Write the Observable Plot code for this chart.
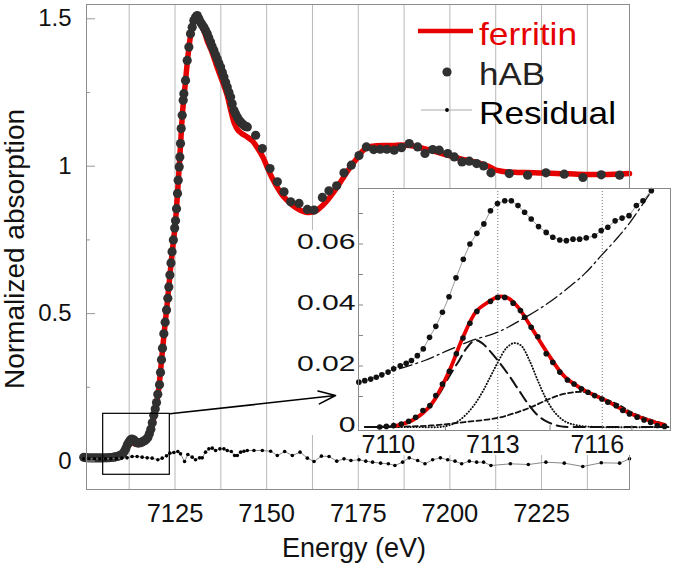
<!DOCTYPE html>
<html><head><meta charset="utf-8">
<script src="https://cdn.jsdelivr.net/npm/d3@7"></script>
<script src="https://cdn.jsdelivr.net/npm/@observablehq/plot@0.6"></script>
<style>
body{margin:0;background:#fff;}
#wrap{position:relative;width:675px;height:574px;overflow:hidden;font-family:"Liberation Sans",Arial,sans-serif;}
#wrap > *{position:absolute;}
</style></head><body><div id="wrap"></div>
<script>
// ---------- main chart data: [energy (eV), normalized absorption] ----------
const hAB = [
[7100.1,0.0126],[7100.7,0.0112],[7101.4,0.0106],[7102.1,0.0104],[7102.8,0.0104],[7103.5,0.0104],[7104.2,0.0104],[7104.9,0.0105],[7105.6,0.0106],[7106.3,0.0108],[7107.0,0.0111],[7107.7,0.0118],[7108.3,0.0128],[7108.8,0.0140],
[7109.2,0.0152],[7109.7,0.0171],[7110.2,0.0201],[7110.7,0.0234],[7111.2,0.0330],[7111.6,0.0427],[7112.0,0.0550],[7112.4,0.0635],[7112.8,0.0709],[7113.2,0.0742],[7113.6,0.0726],[7114.0,0.0682],[7114.4,0.0638],[7114.8,0.0613],[7115.2,0.0616],[7115.6,0.0620],[7116.0,0.0644],[7116.4,0.0676],[7116.8,0.0693],[7117.2,0.0742],[7117.6,0.0800],
[7118.0,0.092],[7118.4,0.108],[7118.8,0.130],[7119.2,0.155],[7119.6,0.176],[7119.95,0.198],[7120.3,0.226],[7120.77,0.2586],[7121.04,0.3004],[7121.31,0.3433],[7121.58,0.3828],[7121.95,0.4313],[7122.31,0.4708],[7122.68,0.5125],[7123.04,0.552],[7123.31,0.5905],[7123.6,0.631],[7123.9,0.672],[7124.2,0.710],[7124.55,0.750],[7124.9,0.790],[7125.14,0.815],[7125.41,0.856],[7125.68,0.9075],[7125.87,0.9526],[7126.14,0.9977],[7126.32,1.0316],[7126.5,1.0767],[7126.69,1.1275],[7126.96,1.1727],[7127.23,1.2234],[7127.41,1.246],[7127.87,1.2911],[7128.32,1.3588],[7128.78,1.404],[7129.23,1.4491],[7129.69,1.4717],[7130.14,1.4943],[7130.6,1.5055],[7131.06,1.5112],[7131.51,1.4999],[7131.97,1.4886],[7132.4,1.480],[7132.88,1.4717],[7133.3,1.461],[7133.79,1.4491],[7134.2,1.436],[7134.7,1.4209],[7135.1,1.407],[7135.61,1.3927],[7136.05,1.378],[7136.52,1.3645],[7136.95,1.350],[7137.43,1.3363],[7137.9,1.319],[7138.34,1.3024],[7138.8,1.285],[7139.25,1.2686],[7139.7,1.251],[7140.16,1.2347],[7140.6,1.212],[7141.07,1.1896],[7141.5,1.178],[7141.98,1.167],[7142.45,1.157],[7142.9,1.150],[7143.35,1.144],[7143.81,1.1388],[7144.25,1.135],[7144.72,1.1332],
[7147.0,1.105],[7148.82,1.0598],[7150.91,0.9921],[7152.92,0.9470],[7154.74,0.9131],[7156.56,0.8793],[7158.83,0.8736],[7161.11,0.8533],[7162.93,0.8510],[7165.2,0.894],[7167.0,0.9165],[7169.1,0.9334],[7171.1,0.9775],[7173.1,1.0034],[7175.2,1.036],[7177.2,1.0655],[7179.2,1.0565],[7181.0,1.0575],[7182.8,1.0575],[7184.8,1.0542],[7186.8,1.063],[7188.9,1.077],[7191.2,1.0655],[7193.2,1.043],[7195.3,1.0565],[7197.1,1.0542],[7199.4,1.043],[7201.2,1.0316],[7203.3,1.0146],[7205.3,1.017],[7207.3,1.009],[7209.2,1.001],[7211.2,0.9775],[7216.2,0.975],[7221.2,0.9695],[7226.2,0.9775],[7231.2,0.973],[7236.3,0.9617],[7241.3,0.9706],[7246.3,0.9695]
];
const ferritin = [
[7100.1,0.0095],[7103,0.0098],[7106,0.0102],[7108,0.0115],[7109,0.013],[7110,0.0165],[7110.8,0.022],[7111.5,0.034],[7112.2,0.050],[7112.9,0.060],[7113.5,0.061],[7114.2,0.057],[7115,0.056],[7115.8,0.058],[7116.6,0.064],[7117.4,0.074],[7118.2,0.092],[7119,0.135],[7119.8,0.185],[7120.5,0.24],[7121.2,0.325],[7122,0.43],[7122.8,0.525],[7123.5,0.615],[7124.2,0.705],[7125,0.795],[7125.7,0.91],[7126.4,1.05],[7127.1,1.19],[7127.8,1.28],[7128.5,1.37],[7129.2,1.44],[7129.9,1.485],[7130.6,1.505],[7131.3,1.50],[7132,1.482],[7133,1.455],[7133.8,1.425],[7135,1.39],[7136.5,1.335],[7138,1.285],[7139.25,1.24],[7140.2,1.19],[7141.2,1.145],[7142.2,1.122],[7143.2,1.111],[7144.7,1.099],[7146.1,1.086],[7147.5,1.062],[7149,1.03],[7150.2,0.995],[7151.5,0.96],[7152.9,0.928],[7154.2,0.903],[7155.6,0.884],[7157,0.868],[7158.4,0.856],[7159.8,0.847],[7161.1,0.843],[7162.5,0.844],[7163.8,0.851],[7165.2,0.866],[7166.6,0.885],[7168,0.907],[7169.3,0.930],[7170.7,0.957],[7172,0.982],[7173.5,1.008],[7175,1.032],[7176.2,1.052],[7177.5,1.064],[7179,1.068],[7182,1.07],[7184.5,1.07],[7186.7,1.072],[7189,1.07],[7191,1.066],[7193.5,1.058],[7195.8,1.05],[7198,1.042],[7200.5,1.033],[7203,1.025],[7205.5,1.018],[7208,1.01],[7210.5,1.0],[7212.3,0.988],[7214.1,0.983],[7216,0.980],[7218.5,0.979],[7223.2,0.978],[7227.5,0.976],[7232.3,0.974],[7237,0.972],[7241.4,0.972],[7245,0.973],[7249,0.975]
];
const residual = [
[7100.1,0.0073],[7101.5,0.0073],[7103,0.0073],[7104.5,0.0073],[7106,0.0073],[7107.5,0.0076],[7109,0.0085],[7110.5,0.0098],[7111.93,0.0107],[7113.3,0.0153],[7114.66,0.0153],[7116.03,0.013],[7117.4,0.0107],[7118.76,0.0096],[7120.31,0.004],[7121.49,0.0096],[7122.68,0.0175],[7123.59,0.0266],[7124.68,0.0288],[7125.77,0.0322],[7126.5,0.0243],[7127.6,-0.0017],[7128.5,0.022],[7129.69,0.013],[7130.6,0.004],[7131.7,0.0107],[7132.42,0.0107],[7133.33,0.03],[7134.24,0.0412],[7135.16,0.0435],[7136.07,0.0356],[7137.25,0.0412],[7138.34,0.0412],[7139.25,0.0356],[7140.35,0.0322],[7141.26,0.0186],[7141.99,0.0186],[7142.9,0.03],[7143.81,0.0333],[7144.72,0.0356],[7146.54,0.0356],[7148.82,0.0356],[7151.09,0.0333],[7152.91,0.0186],[7154.92,0.0322],[7157.01,0.0186],[7159.11,0.03],[7161.11,0.0096],[7162.93,-0.0017],[7164.94,0.0164],[7167.03,0.0153],[7169.13,-0.0006],
[7171.1,0.0073],[7173.0,0.0017],[7175.2,0.004],[7177.05,-0.0006],[7178.9,-0.004],[7181.1,-0.0073],[7183.2,-0.0096],[7185.0,-0.0153],[7187.1,-0.004],[7188.9,0.0107],[7191.2,0.0017],[7193.2,-0.0096],[7195.3,0.004],[7197.4,0.0107],[7199.4,0.004],[7201.4,-0.0006],[7203.2,-0.0096],[7205.3,-0.0006],[7207.3,-0.004],[7209.2,-0.004],[7211.2,-0.0153],[7216.5,-0.0096],[7221.4,-0.0119],[7226.2,-0.004],[7231.2,-0.0073],[7236.25,-0.0186],[7241.3,-0.0062],[7246.3,-0.0073],[7249.0,0.0073]
];
const mainXDomain = [7100.85, 7249.0];
const mainYDomain = [-0.0967, 1.5485];
const mainXTicks = [7125, 7150, 7175, 7200, 7225];
const mainGrid = [7112.5, 7125, 7137.5, 7150, 7162.5, 7175, 7187.5, 7200, 7212.5, 7225, 7237.5];
const mainYTicks = [0, 0.5, 1, 1.5];
const mainYMinor = [0.25, 0.75, 1.25];
const zoomBox = [{x1: 7105.4, x2: 7123.58, y1: -0.0468, y2: 0.160}];
const zoomArrow = [{x1: 7123.58, y1: 0.160, x2: 7168.8, y2: 0.222}];
const xLabel = "Energy (eV)";
const yLabel = "Normalized absorption";
const legendLabels = ["ferritin", "hAB", "Residual"];

// ---------- inset data: pre-edge region ----------
const preEdgeRaw = [
[7109.01,0.0147],[7109.18,0.0152],[7109.35,0.0157],[7109.51,0.0163],[7109.67,0.0171],[7109.85,0.0180],[7110.01,0.0191],[7110.20,0.0201],[7110.37,0.0209],[7110.52,0.0218],[7110.69,0.0234],[7110.86,0.0256],[7111.04,0.0294],[7111.22,0.0330],[7111.41,0.0376],[7111.60,0.0427],[7111.80,0.0489],[7112.01,0.0550],[7112.20,0.0600],[7112.40,0.0635],[7112.60,0.0666],[7112.79,0.0709],[7112.99,0.0733],[7113.20,0.0742],[7113.39,0.0742],[7113.58,0.0726],[7113.77,0.0704],[7113.96,0.0682],[7114.17,0.0657],[7114.39,0.0638],[7114.58,0.0622],[7114.78,0.0613],[7114.97,0.0611],[7115.16,0.0616],[7115.35,0.0616],[7115.54,0.0620],[7115.78,0.0627],[7115.97,0.0644],[7116.16,0.0655],[7116.37,0.0676],[7116.57,0.0685],[7116.77,0.0693],[7116.98,0.0726],[7117.17,0.0742],[7117.41,0.0775]
];
const preEdgeSub = [
[7109.61,0.0],[7109.80,0.0002],[7110.01,0.0005],[7110.23,0.0010],[7110.44,0.0019],[7110.64,0.0032],[7110.85,0.0054],[7111.05,0.0070],[7111.22,0.0103],[7111.41,0.0141],[7111.61,0.0183],[7111.81,0.0240],[7112.00,0.0292],[7112.20,0.0340],[7112.40,0.0379],[7112.79,0.0412],[7113.00,0.0425],[7113.20,0.0425],[7113.44,0.0406],[7113.65,0.0382],[7113.77,0.0360],[7113.96,0.0327],[7114.15,0.0296],[7114.39,0.0240],[7114.58,0.0212],[7114.78,0.0180],[7115.00,0.0154],[7115.19,0.0141],[7115.40,0.0125],[7115.59,0.0114],[7115.78,0.0103],[7115.99,0.0092],[7116.16,0.0081],[7116.40,0.0070],[7116.59,0.0054],[7116.78,0.0043],[7117.00,0.0032],[7117.20,0.0023],[7117.39,0.0015],[7117.58,0.0005],[7117.79,0.0002]
];
const preEdgeFit = [
[7110.04,0.0003],[7110.56,0.0023],[7111.09,0.0074],[7111.57,0.0174],[7112.0,0.0294],[7112.38,0.0379],[7112.72,0.0409],[7113.0,0.0427],[7113.29,0.0423],[7113.58,0.0393],[7113.96,0.0327],[7114.44,0.0240],[7114.92,0.0165],[7115.49,0.0120],[7116.07,0.0089],[7116.83,0.0043],[7117.41,0.0019],[7117.79,0.0007]
];
const edgeBackground = [
[7110.18,0.0191],[7110.9,0.0218],[7111.57,0.0251],[7112.24,0.0283],[7113.0,0.0311],[7113.77,0.0358],[7114.34,0.0398],[7114.92,0.0447],[7115.49,0.0502],[7115.97,0.0562],[7116.45,0.0622],[7116.83,0.0676],[7117.45,0.0780]
];
const peak1 = [
[7109.2,0.0],[7110.0,0.0003],[7110.5,0.0018],[7111.0,0.0065],[7111.3,0.0105],[7111.6,0.0165],[7111.9,0.0220],[7112.1,0.0258],[7112.35,0.0285],[7112.55,0.0275],[7112.72,0.0256],[7113.0,0.0218],[7113.29,0.0174],[7113.58,0.0125],[7113.87,0.0076],[7114.15,0.0038],[7114.44,0.0016],[7114.82,0.0002],[7115.5,0.0],[7116.5,0.0],[7117.9,0.0]
];
const peak2 = [
[7109.2,0.0],[7110.5,0.0],[7111.47,0.0002],[7111.86,0.0019],[7112.24,0.0060],[7112.53,0.0109],[7112.77,0.0161],[7113.0,0.0212],[7113.24,0.0258],[7113.46,0.0275],[7113.67,0.0267],[7113.91,0.0218],[7114.15,0.0152],[7114.39,0.0092],[7114.63,0.0049],[7114.92,0.0019],[7115.3,0.0005],[7115.88,0.0],[7117.9,0.0]
];
const peak3 = [
[7109.18,0.0],[7110.2,0.0001],[7111.09,0.0005],[7112.05,0.0016],[7113.0,0.0030],[7113.58,0.0049],[7113.96,0.0065],[7114.34,0.0085],[7114.73,0.0103],[7115.11,0.0113],[7115.4,0.0115],[7115.68,0.0111],[7116.07,0.0092],[7116.45,0.0074],[7116.83,0.0049],[7117.31,0.0027],[7117.79,0.0010]
];
const insetXDomain = [7109.0, 7117.96];
const insetYDomain = [-0.00115, 0.0782];
const insetXTicks = [7110, 7113, 7116];
const insetYTicks = [0, 0.02, 0.04, 0.06];
const insetYMinor = [0.01, 0.02, 0.03, 0.04, 0.05, 0.06, 0.07];
const insetXMinor = [7111.5, 7114.5, 7116.85];

// ---------- drawing ----------
const FONT = "'Liberation Sans', Arial, sans-serif";
const RED = "#e60000";
const pts = a => a.map(([e, v]) => ({e, v}));
const wrap = document.getElementById("wrap");

const M = {width: 675, height: 574, marginLeft: 86, marginRight: 46, marginTop: 4, marginBottom: 85};
const frameW = M.width - M.marginLeft - M.marginRight;

const main = Plot.plot({
  ...M,
  style: {fontFamily: FONT, background: "transparent", color: "#111"},
  x: {domain: mainXDomain, axis: null},
  y: {domain: mainYDomain, axis: null},
  marks: [
    Plot.ruleX(mainGrid, {x: d => d, stroke: "#b8b8b8", strokeWidth: 1}),
    Plot.line(pts(ferritin), {x: "e", y: "v", stroke: RED, strokeWidth: 5.5, curve: "catmull-rom"}),
    Plot.dot(pts(hAB), {x: "e", y: "v", r: 4.6, fill: "#303030"}),
    Plot.line(pts(residual), {x: "e", y: "v", stroke: "#8a8a8a", strokeWidth: 1}),
    Plot.dot(pts(residual), {x: "e", y: "v", r: 1.8, fill: "#000"}),
    Plot.rect(zoomBox, {x1: "x1", x2: "x2", y1: "y1", y2: "y2", fill: "none", stroke: "#000", strokeWidth: 1.2}),
    Plot.tickY(mainYTicks, {y: d => d, stroke: "#999", insetRight: frameW - 9}),
    Plot.tickY(mainYMinor, {y: d => d, stroke: "#999", insetRight: frameW - 4}),
    Plot.frame({stroke: "#8c8c8c"}),
    Plot.text(mainYTicks, {y: d => d, text: d => String(d), frameAnchor: "left", textAnchor: "end", dx: -15, fontSize: 24}),
    Plot.text(mainXTicks, {x: d => d, text: d => String(d), frameAnchor: "bottom", lineAnchor: "top", dy: 14, fontSize: 25.5}),
    Plot.text([xLabel], {text: d => d, frameAnchor: "bottom", textAnchor: "middle", dy: 67, dx: -4, fontSize: 27}),
    Plot.text([yLabel], {text: d => d, frameAnchor: "left", textAnchor: "middle", dx: -71, dy: 2, rotate: -90, fontSize: 28})
  ]
});
main.style.left = "0px"; main.style.top = "0px";
wrap.appendChild(main);

// white backing behind inset labels
const back1 = document.createElement("div");
Object.assign(back1.style, {left: "296px", top: "230px", width: "62px", height: "205px", background: "#fff"});
const back2 = document.createElement("div");
Object.assign(back2.style, {left: "340px", top: "428px", width: "335px", height: "27px", background: "#fff"});
wrap.appendChild(back1); wrap.appendChild(back2);

const I = {width: 387, height: 276, marginLeft: 70, marginRight: 5, marginTop: 2, marginBottom: 32};
const insetW = I.width - I.marginLeft - I.marginRight;
const insetH = I.height - I.marginTop - I.marginBottom;
const inset = Plot.plot({
  ...I,
  style: {fontFamily: FONT, background: "transparent", color: "#111"},
  x: {domain: insetXDomain, axis: null},
  y: {domain: insetYDomain, axis: null},
  marks: [
    Plot.frame({fill: "#fff"}),
    Plot.ruleX(insetXTicks, {x: d => d, stroke: "#777", strokeDasharray: "1,2"}),
    Plot.line(pts(preEdgeRaw), {x: "e", y: "v", stroke: "#9a9a9a", strokeWidth: 1}),
    Plot.dot(pts(preEdgeRaw), {x: "e", y: "v", r: 2.8, fill: "#111"}),
    Plot.line(pts(edgeBackground), {x: "e", y: "v", stroke: "#111", strokeWidth: 1.3, strokeDasharray: "13,4,2,4", curve: "catmull-rom"}),
    Plot.line(pts(peak1), {x: "e", y: "v", stroke: "#111", strokeWidth: 2, strokeDasharray: "11,6", curve: "catmull-rom"}),
    Plot.line(pts(peak2), {x: "e", y: "v", stroke: "#111", strokeWidth: 1.9, strokeDasharray: "0.3,2.7", strokeLinecap: "round", curve: "catmull-rom"}),
    Plot.line(pts(peak3), {x: "e", y: "v", stroke: "#111", strokeWidth: 1.8, strokeDasharray: "5,3", curve: "catmull-rom"}),
    Plot.line(pts(preEdgeFit), {x: "e", y: "v", stroke: RED, strokeWidth: 3.8, curve: "catmull-rom"}),
    Plot.dot(pts(preEdgeSub), {x: "e", y: "v", r: 2.8, fill: "#111"}),
    Plot.tickY(insetYMinor, {y: d => d, stroke: "#888", insetRight: insetW - 5}),
    Plot.tickX(insetXMinor, {x: d => d, stroke: "#888", insetTop: insetH - 5}),
    Plot.frame({stroke: "#8a8a8a"}),
    Plot.text(insetYTicks, {y: d => d, text: d => String(d), frameAnchor: "left", textAnchor: "end", dx: -3, dy: -2, fontSize: 21.5}),
    Plot.text(insetXTicks, {x: d => d, text: d => String(d), frameAnchor: "bottom", lineAnchor: "top", dy: 5, dx: -5, fontSize: 25})
  ]
});
inset.style.left = "288px"; inset.style.top = "186px";
wrap.appendChild(inset);
// the reference's inset y tick labels are drawn horizontally stretched
const yLabelTexts = Array.from(inset.querySelectorAll("text")).filter(t => insetYTicks.map(String).includes(t.textContent));
yLabelTexts.forEach(t => {
  const w = t.getComputedTextLength();
  t.setAttribute("textLength", (w * 1.4).toFixed(1));
  t.setAttribute("lengthAdjust", "spacingAndGlyphs");
});

// arrow overlay on the main scales
const overlay = Plot.plot({
  ...M,
  style: {background: "transparent"},
  x: {domain: mainXDomain, axis: null},
  y: {domain: mainYDomain, axis: null},
  marks: [
    Plot.arrow(zoomArrow, {x1: "x1", y1: "y1", x2: "x2", y2: "y2", stroke: "#000", strokeWidth: 1.6, headLength: 17, headAngle: 42})
  ]
});
overlay.style.left = "0px"; overlay.style.top = "0px"; overlay.style.pointerEvents = "none";
wrap.appendChild(overlay);

// legend
const ns = "http://www.w3.org/2000/svg";
const leg = document.createElementNS(ns, "svg");
leg.setAttribute("width", 675); leg.setAttribute("height", 574);
leg.style.left = "0px"; leg.style.top = "0px"; leg.style.pointerEvents = "none";
leg.innerHTML = `
  <line x1="418" y1="31" x2="473" y2="31" stroke="${RED}" stroke-width="4.5"/>
  <text x="479" y="45" fill="${RED}" font-size="32" font-family="${FONT}" textLength="98" lengthAdjust="spacingAndGlyphs">${legendLabels[0]}</text>
  <circle cx="447" cy="72" r="4.6" fill="#303030"/>
  <text x="479" y="85" fill="#222" font-size="32" font-family="${FONT}" textLength="66" lengthAdjust="spacingAndGlyphs">${legendLabels[1]}</text>
  <line x1="421" y1="110" x2="472" y2="110" stroke="#aaa" stroke-width="1"/>
  <circle cx="447" cy="110" r="1.9" fill="#000"/>
  <text x="479" y="124" fill="#000" font-size="32" font-family="${FONT}" textLength="137" lengthAdjust="spacingAndGlyphs">${legendLabels[2]}</text>`;
wrap.appendChild(leg);
</script></body></html>
